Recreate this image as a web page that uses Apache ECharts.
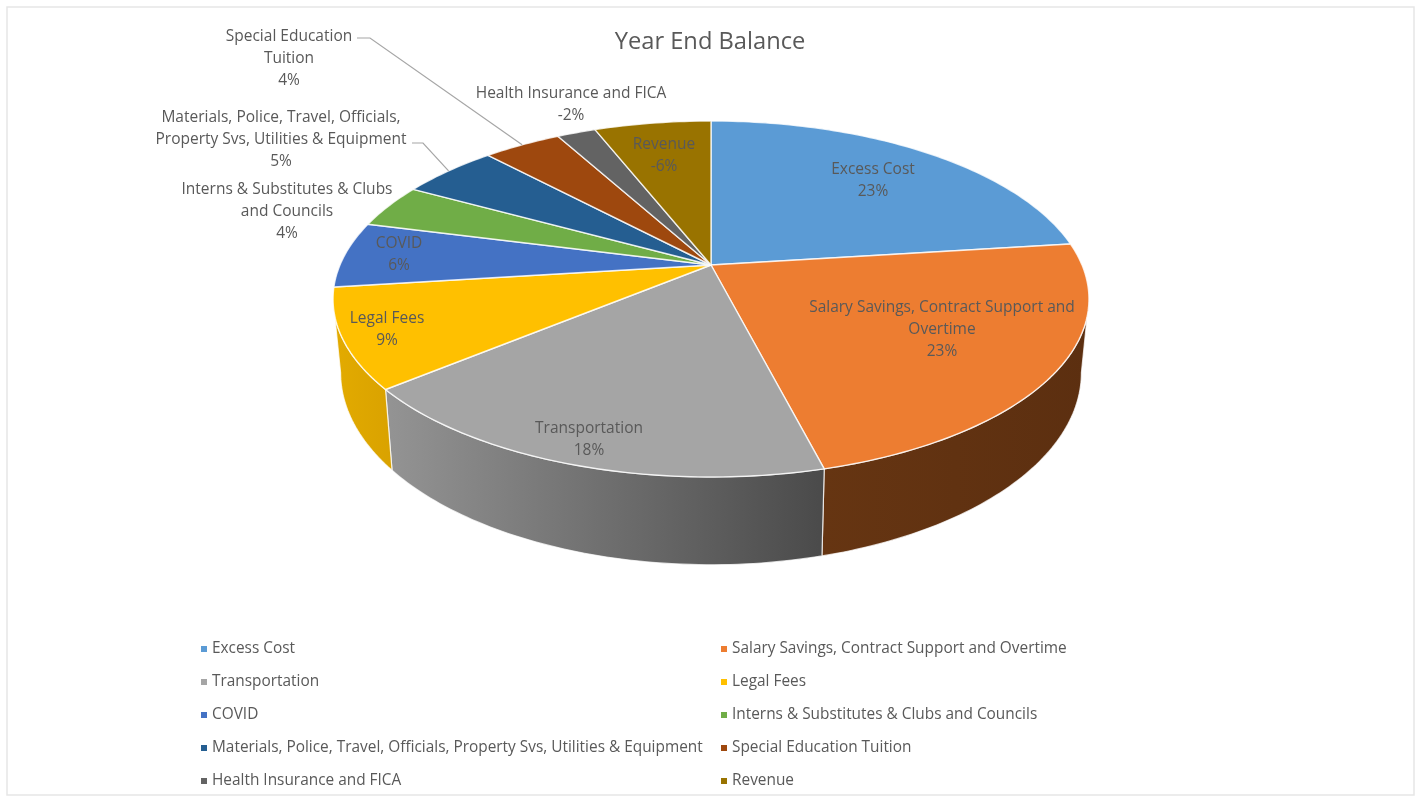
<!DOCTYPE html>
<html>
<head>
<meta charset="utf-8">
<script src="https://cdn.jsdelivr.net/npm/echarts@6/dist/echarts.min.js"></script>
<style>html,body{margin:0;padding:0;background:#fff}#chart{width:1420px;height:801px}</style>
</head>
<body>
<div id="chart"></div>
<script>
// Year-end balance by budget line, in percent (negative lines are drawn by magnitude).
const categories = [
  'Excess Cost',
  'Salary Savings, Contract Support and Overtime',
  'Transportation',
  'Legal Fees',
  'COVID',
  'Interns & Substitutes & Clubs and Councils',
  'Materials, Police, Travel, Officials, Property Svs, Utilities & Equipment',
  'Special Education Tuition',
  'Health Insurance and FICA',
  'Revenue'
];
const balances = [23, 23, 18, 9, 6, 4, 5, 4, -2, -6];
const colors = ['#5B9BD5', '#ED7D31', '#A5A5A5', '#FFC000', '#4472C4', '#70AD47', '#255E91', '#9E480E', '#636363', '#997300'];
const wrappedNames = [
  'Excess Cost',
  'Salary Savings, Contract Support and\nOvertime',
  'Transportation',
  'Legal Fees',
  'COVID',
  'Interns & Substitutes & Clubs\nand Councils',
  'Materials, Police, Travel, Officials,\nProperty Svs, Utilities & Equipment',
  'Special Education\nTuition',
  'Health Insurance and FICA',
  'Revenue'
];

// Label centres and leader-line elbows, in page pixels.
const labelSpots = [[873, 181], [942, 330], [589, 440], [387, 330], [399, 255], [287, 212], [281, 140], [289, 59], [571, 105], [664, 156]];
const leaderStarts = { 6: [[412, 143], [423, 143]], 7: [[357, 38], [370, 38]] };

// Perspective model of the tilted disc.
const CX = 711, CY = 265, RX = 371, RY = 171.5, TILT = 0.191, DEPTH = 71, SHRINK = 0.98;
const FONT = '"Open Sans", sans-serif';

const total = balances.reduce((s, v) => s + Math.abs(v), 0);
const startShares = [];
balances.reduce((s, v, i) => { startShares[i] = s; return s + Math.abs(v); }, 0);

function rim(angle, lower) {
  const x = Math.sin(angle), y = -Math.cos(angle), w = 1 - TILT * y;
  if (!lower) return [CX + RX * x / w, CY + RY * y / w];
  return [CX + SHRINK * RX * x / w, CY + RY * y / w + DEPTH / w];
}
function arc(a0, a1, lower) {
  const pts = [], n = Math.max(2, Math.ceil(Math.abs(a1 - a0) / (Math.PI / 180)));
  for (let i = 0; i <= n; i++) pts.push(rim(a0 + (a1 - a0) * i / n, lower));
  return pts;
}

const SIDE_FROM = 101 * Math.PI / 180, SIDE_TO = 259 * Math.PI / 180;
const sideFills = {
  1: ['#663512', '#5c2f10'],
  2: ['#949494', '#4a4a4a'],
  3: ['#e3ab00', '#d9a200']
};

function sliceRenderer(index) {
  return function (params, api) {
    const share = Math.abs(api.value(0));
    const a0 = startShares[index] / total * 2 * Math.PI;
    const a1 = a0 + share / total * 2 * Math.PI;
    const children = [];

    // outer wall, only where the rim faces the viewer
    const s0 = Math.max(a0, SIDE_FROM), s1 = Math.min(a1, SIDE_TO);
    if (s1 > s0) {
      const fill = sideFills[index] || [colors[index], colors[index]];
      children.push({
        type: 'polygon', z2: 1,
        shape: { points: arc(s0, s1, false).concat(arc(s1, s0, true)) },
        style: {
          fill: { type: 'linear', x: 0, y: 0, x2: 1, y2: 0, colorStops: [{ offset: 0, color: fill[0] }, { offset: 1, color: fill[1] }] },
          stroke: 'rgba(255,255,255,0.75)', lineWidth: 1.2, lineJoin: 'round'
        }
      });
    }

    // top face
    children.push({
      type: 'polygon', z2: 5,
      shape: { points: [[CX, CY]].concat(arc(a0, a1, false)) },
      style: { fill: colors[index], stroke: 'rgba(255,255,255,0.8)', lineWidth: 1.4, lineJoin: 'round' }
    });

    // leader line out to the rim
    if (leaderStarts[index]) {
      children.push({
        type: 'polyline', z2: 6,
        shape: { points: leaderStarts[index].concat([rim((a0 + a1) / 2, false)]) },
        style: { fill: null, stroke: '#a6a6a6', lineWidth: 1.2 }
      });
    }

    // value label
    const spot = labelSpots[index];
    children.push({
      type: 'text', z2: 10,
      style: {
        text: wrappedNames[index] + '\n' + balances[index] + '%',
        x: spot[0], y: spot[1], align: 'center', verticalAlign: 'middle',
        fontFamily: '"Open Sans", sans-serif', fontSize: 15.5, lineHeight: 22, fill: '#595959'
      }
    });
    return { type: 'group', children };
  };
}

const chart = echarts.init(document.getElementById('chart'), null, { renderer: 'canvas' });
const legendStyle = {
  orient: 'vertical', top: 639, padding: 0, icon: 'rect', itemWidth: 6, itemHeight: 6, itemGap: 13,
  itemStyle: { borderWidth: 0 }, selectedMode: false,
  textStyle: { color: '#595959', fontFamily: FONT, fontSize: 15.4, lineHeight: 20, height: 20, padding: [0, 0, 0, 0] }
};
chart.setOption({
  animation: false,
  backgroundColor: '#ffffff',
  title: {
    text: 'Year End Balance', left: 'center', top: 25,
    textStyle: { color: '#595959', fontFamily: FONT, fontSize: 23.7, fontWeight: 'normal' }
  },
  legend: [
    Object.assign({ left: 201, data: categories.filter((_, i) => i % 2 === 0) }, legendStyle),
    Object.assign({ left: 721, data: categories.filter((_, i) => i % 2 === 1) }, legendStyle)
  ],
  graphic: [{
    type: 'rect', silent: true, z: -1,
    shape: { x: 7, y: 7, width: 1407, height: 788 },
    style: { fill: null, stroke: '#e6e6e6', lineWidth: 1.5 }
  }],
  series: categories.map((name, i) => ({
    type: 'custom', name, coordinateSystem: 'none', silent: true,
    itemStyle: { color: colors[i] },
    data: [[balances[i]]],
    renderItem: sliceRenderer(i)
  }))
});
</script>
</body>
</html>
